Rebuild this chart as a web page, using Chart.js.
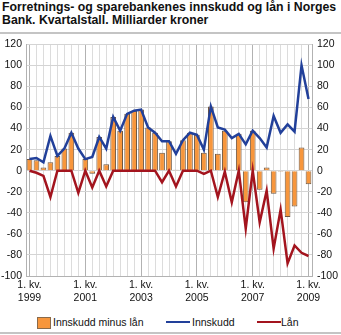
<!DOCTYPE html>
<html>
<head>
<meta charset="utf-8">
<script src="https://cdn.jsdelivr.net/npm/chart.js@4.4.1/dist/chart.umd.min.js"></script>
<style>
  body { margin: 0; width: 341px; height: 335px; position: relative; overflow: hidden; background: #fff;
         font-family: "Liberation Sans", Arial, sans-serif; color: #111; }
  #title { position: absolute; left: 2px; top: 1px; font-weight: bold; font-size: 12.3px; line-height: 13px; }
  .rule { position: absolute; left: 0; width: 341px; height: 2px; background: #c4c4c4; }
  #chartBox { position: absolute; left: 0; top: 33px; width: 341px; height: 276px; }
  .lg { position: absolute; font-size: 10.5px; line-height: 12px; top: 316px; }
  .box { position: absolute; top: 317px; left: 37px; width: 12px; height: 10px; background: #f7963c; border: 1px solid #8a6a4a; }
  .ln { position: absolute; top: 321px; height: 2px; width: 24px; }
</style>
</head>
<body>
<div id="title">Forretnings- og sparebankenes innskudd og lån i Norges<br>Bank. Kvartalstall. Milliarder kroner</div>
<div class="rule" style="top:32px"></div>
<div id="chartBox"><canvas id="myChart"></canvas></div>
<div class="box"></div><div class="lg" style="left:53px">Innskudd minus lån</div>
<div class="ln" style="left:166px;background:#22409a"></div><div class="lg" style="left:192px">Innskudd</div>
<div class="ln" style="left:257px;background:#a3141e"></div><div class="lg" style="left:281px">Lån</div>
<div class="rule" style="top:332px"></div>
<script>
// quarters 1999 K1 .. 2009 K1
const years = [1999, 2000, 2001, 2002, 2003, 2004, 2005, 2006, 2007, 2008, 2009];
const tickYears = ["1999", "2001", "2003", "2005", "2007", "2009"];
const categories = [];
years.forEach((y) => { for (let q = 1; q <= 4; q++) if (y < 2009 || q === 1) categories.push(q + ". kv. " + y); });

const innskuddMinusLan = [11, 10, 3, 8, 14, 21, 36, 0, 11, -3, 32, 6, 51, 38, 54, 57, 58, 41, 36, 17,
  28, 1, 29, 36, 34, 17, 61, 16, 38, 1, 35, -30, 38, -18, 3, -22, -1, -44, -34, 22, -13];
const innskudd = [11, 12, 8, 33, 14, 21, 36, 21, 11, 13, 32, 21, 51, 38, 54, 57, 58, 41, 36, 28,
  28, 16, 29, 36, 34, 20, 61, 41, 39, 31, 35, 25, 38, 31, 22, 52, 36, 44, 37, 100, 68];
const lan = [0, -2, -5, -25, 0, 0, 0, -21, 0, -16, 0, -15, 0, 0, 0, 0, 0, 0, 0, -11,
  0, -15, 0, 0, 0, -3, 0, -25, -1, -30, 0, -55, 0, -49, -19, -74, -37, -88, -71, -78, -81];

const tickFont = { family: "'Liberation Sans', Arial, sans-serif", size: 10.5 };

new Chart(document.getElementById("myChart"), {
  type: "bar",
  data: {
    labels: categories,
    datasets: [
      { type: "line", label: "Innskudd", data: innskudd, borderColor: "#22409a", borderWidth: 2.5,
        pointRadius: 0, tension: 0, order: 1 },
      { type: "line", label: "Lån", data: lan, borderColor: "#a3141e", borderWidth: 2.5,
        pointRadius: 0, tension: 0, order: 2 },
      { label: "Innskudd minus lån", data: innskuddMinusLan, backgroundColor: "#f7963c",
        borderColor: "#6e5640", borderWidth: 1, barPercentage: 0.82, categoryPercentage: 1, order: 3 },
    ],
  },
  options: {
    responsive: true,
    maintainAspectRatio: false,
    animation: false,
    layout: { padding: { top: 0, left: 0, right: 0, bottom: 0 } },
    plugins: { legend: { display: false }, tooltip: { enabled: false } },
    scales: {
      x: {
        offset: true,
        grid: { offset: false, drawTicks: false,
          color: (c) => (c.index % 8 === 0 ? "#b2b2b2" : "#dcdcdc") },
        border: { color: "#b2b2b2" },
        ticks: { autoSkip: false, maxRotation: 0, padding: 3, color: "#111", font: tickFont,
          callback: (v, i) => (i % 8 === 0 ? ["1. kv.", tickYears[i / 8]] : "") },
        afterFit: (s) => { s.height = 33; },
      },
      y: {
        position: "left", min: -100, max: 120,
        grid: { color: "#d4d4d4", drawTicks: false },
        border: { color: "#b2b2b2" },
        ticks: { stepSize: 20, padding: 4, color: "#111", font: tickFont },
        afterFit: (s) => { s.width = 26; },
      },
      y2: {
        position: "right", min: -100, max: 120,
        grid: { display: false, drawTicks: false },
        border: { color: "#b2b2b2" },
        ticks: { stepSize: 20, padding: 5, color: "#111", font: tickFont },
        afterFit: (s) => { s.width = 29; },
      },
    },
  },
});
</script>
</body>
</html>
